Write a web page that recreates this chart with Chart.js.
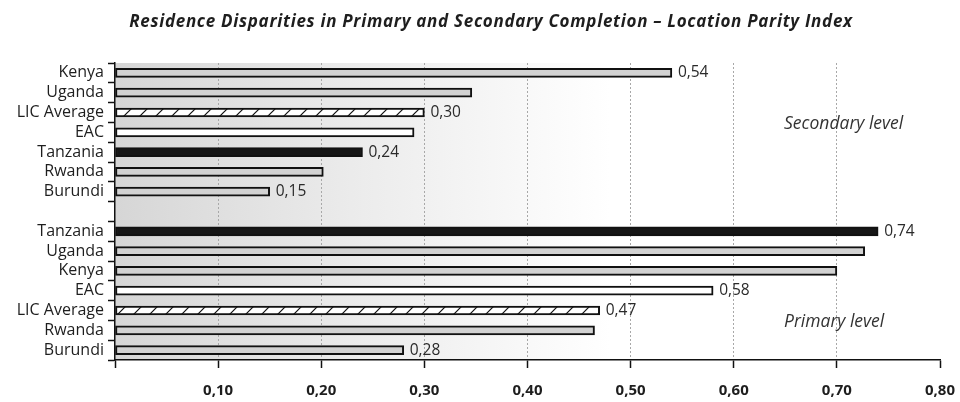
<!DOCTYPE html>
<html>
<head>
<meta charset="utf-8">
<script src="https://cdn.jsdelivr.net/npm/chart.js@4"></script>
<style>
  html, body { margin: 0; padding: 0; background: #fff; }
  #wrap { width: 960px; height: 402px; }
</style>
</head>
<body>
<div id="wrap"><canvas id="parityChart" width="960" height="402"></canvas></div>
<script>
// secondary completion, top block
const secondaryLabels = ['Kenya', 'Uganda', 'LIC Average', 'EAC', 'Tanzania', 'Rwanda', 'Burundi'];
const secondaryValues = [0.54, 0.346, 0.30, 0.29, 0.24, 0.202, 0.15];
const secondaryShown = [true, false, true, false, true, false, true];

// primary completion, bottom block
const primaryLabels = ['Tanzania', 'Uganda', 'Kenya', 'EAC', 'LIC Average', 'Rwanda', 'Burundi'];
const primaryValues = [0.74, 0.727, 0.70, 0.58, 0.47, 0.465, 0.28];
const primaryShown = [true, false, false, true, true, false, true];

const xTicks = [0, 0.1, 0.2, 0.3, 0.4, 0.5, 0.6, 0.7, 0.8];

const labels = [...secondaryLabels, '', ...primaryLabels];
const values = [...secondaryValues, null, ...primaryValues];
const shown = [...secondaryShown, false, ...primaryShown];

const TITLE = 'Residence Disparities in Primary and Secondary Completion \u2013 Location Parity Index';
const FONT = '"Open Sans", "Noto Sans", sans-serif';
const fmt = v => v.toFixed(2).replace('.', ',');

// diagonal hatch for the LIC average bars
const tile = document.createElement('canvas');
tile.width = 16; tile.height = 16;
const tctx = tile.getContext('2d');
tctx.fillStyle = '#fff';
tctx.fillRect(0, 0, 16, 16);
tctx.strokeStyle = '#111';
tctx.lineWidth = 1.2;
tctx.beginPath();
tctx.moveTo(0, 16); tctx.lineTo(16, 0);
tctx.moveTo(-2, 2); tctx.lineTo(2, -2);
tctx.moveTo(14, 18); tctx.lineTo(18, 14);
tctx.stroke();
const ctx = document.getElementById('parityChart').getContext('2d');
const hatch = ctx.createPattern(tile, 'repeat');

function fillFor(name) {
  if (name === 'Tanzania') return '#161616';
  if (name === 'EAC') return '#ffffff';
  if (name === 'LIC Average') return hatch;
  return '#d2d2d2';
}

const plotBackground = {
  id: 'plotBackground',
  beforeDraw(chart) {
    const { ctx, chartArea: a } = chart;
    const g = ctx.createLinearGradient(a.left, 0, a.right, 0);
    g.addColorStop(0, '#d6d6d6');
    g.addColorStop(0.3, '#ececec');
    g.addColorStop(0.6, '#ffffff');
    g.addColorStop(1, '#ffffff');
    ctx.save();
    ctx.fillStyle = g;
    ctx.fillRect(a.left, a.top, a.right - a.left, a.bottom - a.top);
    ctx.restore();
  }
};

const barValues = {
  id: 'barValues',
  afterDatasetsDraw(chart) {
    const { ctx } = chart;
    const meta = chart.getDatasetMeta(0);
    ctx.save();
    ctx.font = '15.5px ' + FONT;
    ctx.fillStyle = '#2a2a2a';
    ctx.textBaseline = 'middle';
    meta.data.forEach((bar, i) => {
      if (!shown[i] || values[i] == null) return;
      ctx.fillText(fmt(values[i]), bar.x + 6, bar.y);
    });
    // block captions
    ctx.font = 'italic 17.5px ' + FONT;
    ctx.fillStyle = '#333';
    ctx.textAlign = 'left';
    const y = chart.scales.y;
    ctx.fillText('Secondary level', 784, (y.getPixelForValue(2) + y.getPixelForValue(3)) / 2 + 2);
    ctx.fillText('Primary level', 784, (y.getPixelForValue(12) + y.getPixelForValue(13)) / 2 + 2);
    ctx.restore();
  }
};

// heading, drawn by hand so it can be letter-spaced
const heading = {
  id: 'heading',
  afterDraw(chart) {
    const { ctx } = chart;
    ctx.save();
    ctx.font = 'italic bold 17px ' + FONT;
    if ('letterSpacing' in ctx) ctx.letterSpacing = '0.7px';
    ctx.fillStyle = '#1e1e1e';
    ctx.textAlign = 'center';
    ctx.textBaseline = 'middle';
    ctx.fillText(TITLE, 491, 22);
    ctx.restore();
  }
};

new Chart(ctx, {
  type: 'bar',
  data: {
    labels: labels,
    datasets: [{
      data: values,
      backgroundColor: labels.map(fillFor),
      borderColor: '#111',
      borderWidth: 2,
      borderSkipped: false,
      barThickness: 9
    }]
  },
  options: {
    indexAxis: 'y',
    responsive: false,
    animation: false,
    layout: { padding: { left: 0, right: 20, top: 63, bottom: 0 } },
    plugins: {
      legend: { display: false },
      tooltip: { enabled: false },
      title: { display: false }
    },
    scales: {
      x: {
        min: 0,
        max: 0.8,
        afterBuildTicks: scale => { scale.ticks = xTicks.map(v => ({ value: v })); },
        afterFit: scale => {
          scale.height = 42;
          scale.paddingLeft = 0;
          scale.paddingRight = 0;
        },
        ticks: {
          callback: v => v === 0 ? '' : fmt(v),
          font: { family: FONT, size: 15, weight: 'bold' },
          color: '#1e1e1e',
          padding: 14,
          maxRotation: 0
        },
        grid: {
          color: c => (c.tick && (c.tick.value === 0 || c.tick.value >= 0.8)) ? 'rgba(0,0,0,0)' : '#a8a8a8',
          lineWidth: 1,
          tickColor: '#111',
          tickLength: 8,
          tickWidth: 1.5
        },
        border: { display: true, color: '#111', width: 1.5, dash: [2, 2] }
      },
      y: {
        afterFit: scale => { scale.width = 115; },
        ticks: {
          font: { family: FONT, size: 16 },
          color: '#1e1e1e',
          padding: 4,
          autoSkip: false
        },
        grid: {
          offset: true,
          drawOnChartArea: false,
          tickColor: '#111',
          tickLength: 7,
          tickWidth: 1.5
        },
        border: { display: true, color: '#111', width: 1.5 }
      }
    }
  },
  plugins: [plotBackground, barValues, heading]
});
</script>
</body>
</html>
